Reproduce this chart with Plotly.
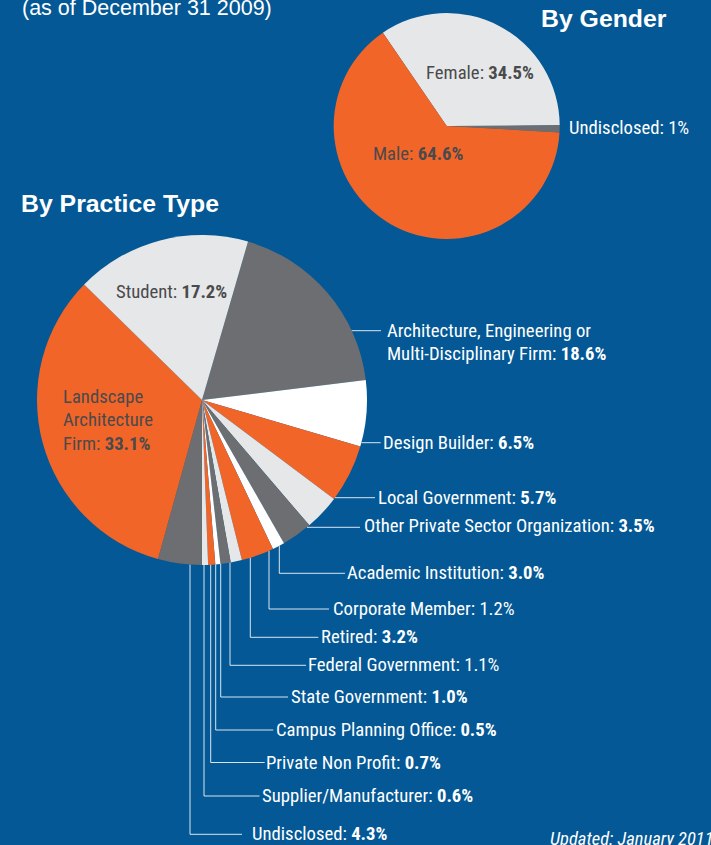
import math
import plotly.graph_objects as go

# ---------------- data ----------------
gender_labels = ["Female", "Undisclosed", "Male"]
gender_values = [34.5, 1.0, 64.6]

practice_labels = [
    "Architecture, Engineering or Multi-Disciplinary Firm",
    "Design Builder",
    "Local Government",
    "Other Private Sector Organization",
    "Academic Institution",
    "Corporate Member",
    "Retired",
    "Federal Government",
    "State Government",
    "Campus Planning Office",
    "Private Non Profit",
    "Supplier/Manufacturer",
    "Undisclosed",
    "Landscape Architecture Firm",
    "Student",
]
practice_values = [18.6, 6.5, 5.7, 3.5, 3.0, 1.2, 3.2, 1.1, 1.0, 0.5, 0.7, 0.6, 4.3, 33.1, 17.2]

# ---------------- style ----------------
W, H = 711, 845
BG = "#035895"
ORANGE = "#f26529"
LGRAY = "#e6e7e8"
DGRAY = "#6d6e71"
WHITE = "#ffffff"
INK = "#4a4a4c"
LINE = "rgba(255,255,255,0.85)"
NARROW = "Liberation Sans Narrow, Arial Narrow, Roboto Condensed, DejaVu Sans Condensed, sans-serif"
SANS = "Liberation Sans, Arial, Helvetica, sans-serif"
FS = 18.7

gender_colors = [LGRAY, DGRAY, ORANGE]
practice_colors = [DGRAY, WHITE, ORANGE, LGRAY, DGRAY, WHITE, ORANGE, LGRAY,
                   DGRAY, WHITE, ORANGE, LGRAY, DGRAY, ORANGE, LGRAY]
regular_pct = {"Corporate Member", "Federal Government"}

# pie geometry (pixels)
P_CX, P_CY, P_R = 202, 400, 165
G_CX, G_CY, G_R = 446.7, 126, 113


def px(x):
    return x / W


def py(y):
    return 1 - y / H


def dom(cx, cy, r):
    return dict(x=[px(cx - r), px(cx + r)], y=[py(cy + r), py(cy - r)])


def pct(v):
    return f"{v:.1f}%"


fig = go.Figure()
fig.add_trace(go.Pie(
    labels=practice_labels, values=practice_values, sort=False,
    direction="clockwise", rotation=16.2,
    marker=dict(colors=practice_colors, line=dict(width=0)),
    textinfo="none", hoverinfo="skip", showlegend=False,
    domain=dom(P_CX, P_CY, P_R),
))
fig.add_trace(go.Pie(
    labels=gender_labels, values=gender_values, sort=False,
    direction="clockwise", rotation=-34.4,
    marker=dict(colors=gender_colors, line=dict(width=0)),
    textinfo="none", hoverinfo="skip", showlegend=False,
    domain=dom(G_CX, G_CY, G_R),
))

ann = []
shapes = []


def text(x, y, s, color=WHITE, size=FS, family=NARROW, anchor="left"):
    ann.append(dict(x=px(x), y=py(y), xref="paper", yref="paper", text=s,
                    showarrow=False, xanchor=anchor, yanchor="middle",
                    align="left", borderpad=0, borderwidth=0,
                    font=dict(color=color, size=size, family=family)))


def lab(name, v):
    p = pct(v)
    if name in regular_pct:
        return f"{name}: {p}"
    return f"{name}: <b>{p}</b>"


pv = dict(zip(practice_labels, practice_values))

# titles
text(21.7, 8.4, "(as of December 31 2009)", size=21.5, family=SANS)
text(541, 18.5, "<b>By Gender</b>", size=24.8, family=SANS)
text(20.5, 203.5, "<b>By Practice Type</b>", size=24.8, family=SANS)
text(550, 838.6, "<i>Updated: January 2011</i>", size=18.5)

# gender labels
gv = dict(zip(gender_labels, gender_values))
text(426, 72.7, f"Female: <b>{gv['Female']:g}%</b>", color=INK)
text(372.7, 154, f"Male: <b>{gv['Male']:g}%</b>", color=INK)
text(569.3, 128.3, f"Undisclosed: {gv['Undisclosed']:g}%")

# practice inside labels
text(116, 291.7, f"Student: <b>{pct(pv['Student'])}</b>", color=INK)
text(63.3, 396.7, "Landscape", color=INK)
text(63.3, 420.2, "Architecture", color=INK)
text(63.3, 444.3, f"Firm: <b>{pct(pv['Landscape Architecture Firm'])}</b>", color=INK)

# right-side labels with horizontal leaders: (name, line_y, line_end_x, text_x, text_y)
right = [
    ("Design Builder", 442.7, 380.7, 382.7, 442.7),
    ("Local Government", 497.7, 375, 378.3, 497.7),
    ("Other Private Sector Organization", 527.3, 360, 364, 526.3),
]
# architecture two-line label
ay = 330.7
ax0 = P_CX + math.sqrt(P_R ** 2 - (ay - P_CY) ** 2)
shapes.append(dict(type="line", xref="paper", yref="paper", x0=px(ax0), y0=py(ay),
                   x1=px(381), y1=py(ay), line=dict(color=LINE, width=1)))
text(386.7, 330.7, "Architecture, Engineering or")
text(386.7, 353.6, f"Multi-Disciplinary Firm: <b>{pct(pv[practice_labels[0]])}</b>")

for name, ly, lx1, tx, ty in right:
    lx0 = P_CX + math.sqrt(P_R ** 2 - (ly - P_CY) ** 2)
    shapes.append(dict(type="line", xref="paper", yref="paper", x0=px(lx0), y0=py(ly),
                       x1=px(lx1), y1=py(ly), line=dict(color=LINE, width=1)))
    text(tx, ty, lab(name, pv[name]))

# bottom labels with elbow leaders: (name, vertical_x, horizontal_y, end_x, text_x)
bottom = [
    ("Academic Institution", 279.3, 573.3, 345, 346.7),
    ("Corporate Member", 269, 609, 329, 332.7),
    ("Retired", 250.3, 637.3, 318.3, 320.7),
    ("Federal Government", 230, 665.3, 306, 308),
    ("State Government", 220.7, 697, 288, 291.3),
    ("Campus Planning Office", 215.7, 730, 273.3, 276.3),
    ("Private Non Profit", 210.7, 762.5, 264.7, 266),
    ("Supplier/Manufacturer", 204, 796, 259.5, 261.7),
    ("Undisclosed", 190, 834.3, 242, 251.7),
]
for name, vx, hy, hx, tx in bottom:
    vy0 = P_CY + math.sqrt(max(P_R ** 2 - (vx - P_CX) ** 2, 0))
    path = (f"M {px(vx)},{py(vy0)} L {px(vx)},{py(hy)} L {px(hx)},{py(hy)}")
    shapes.append(dict(type="path", xref="paper", yref="paper", path=path,
                       line=dict(color=LINE, width=1)))
    text(tx, hy, lab(name, pv[name]))

fig.update_layout(
    width=W, height=H, autosize=False,
    margin=dict(l=0, r=0, t=0, b=0),
    paper_bgcolor=BG, plot_bgcolor=BG,
    annotations=ann, shapes=shapes,
    showlegend=False,
)
fig.write_html(
    "out.html",
    config={"displayModeBar": False},
    post_script="document.body.style.margin='0';document.body.style.overflow='hidden';",
)
